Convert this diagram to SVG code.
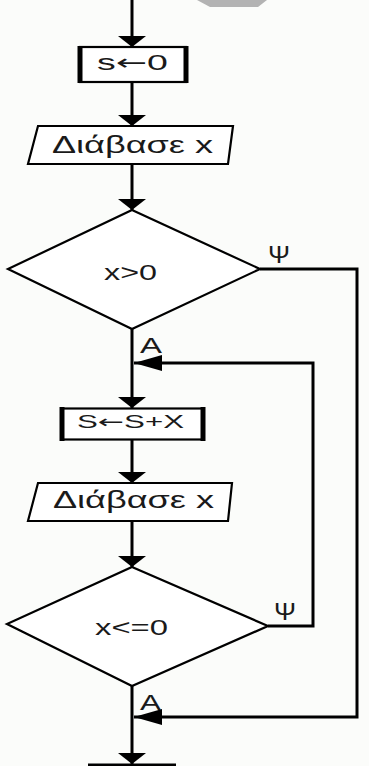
<svg xmlns="http://www.w3.org/2000/svg" width="369" height="766" viewBox="0 0 369 766">
<defs>
<style>
.ln{fill:none;stroke:#000;stroke-width:3;stroke-linejoin:miter}
.sh{fill:#fff;stroke:#000;stroke-width:2.2}
.side{stroke:#000;stroke-width:5}
.tx{font-family:"Liberation Sans",Arial,sans-serif;fill:#1a1a1a}
.ar{font-family:"DejaVu Sans",sans-serif}
</style>
<marker id="ad" viewBox="0 0 11 28" refX="11" refY="14" markerWidth="11" markerHeight="28" orient="auto" markerUnits="userSpaceOnUse">
<path d="M0,0 L11,14 L0,28 Z" fill="#000"/>
</marker>
<marker id="al" viewBox="0 0 28 16" refX="28" refY="8" markerWidth="28" markerHeight="16" orient="auto" markerUnits="userSpaceOnUse">
<path d="M0,0 L28,8 L0,16 Z" fill="#000"/>
</marker>
</defs>
<rect width="369" height="766" fill="#fbfcfa"/>
<polygon points="197,0 267,0 258,7 210,7" fill="#b3b3b3"/>

<g id="connectors">
<path class="ln" d="M132,0 V47" marker-end="url(#ad)"/>
<path class="ln" d="M132,83 V126" marker-end="url(#ad)"/>
<path class="ln" d="M132,164 V210" marker-end="url(#ad)"/>
<path class="ln" d="M132,329 V408" marker-end="url(#ad)"/>
<path class="ln" d="M132,440 V483" marker-end="url(#ad)"/>
<path class="ln" d="M132,521 V567" marker-end="url(#ad)"/>
<path class="ln" d="M132,686 V764" marker-end="url(#ad)"/>
<path class="ln" d="M260,269 H357 V717 H134" marker-end="url(#al)"/>
<path class="ln" d="M268,626 H313 V363 H134" marker-end="url(#al)"/>
<text class="tx" x="268" y="263" font-size="24" textLength="22" lengthAdjust="spacingAndGlyphs">Ψ</text>
<text class="tx" x="274" y="620" font-size="24" textLength="22" lengthAdjust="spacingAndGlyphs">Ψ</text>
<text class="tx" x="140" y="353" font-size="22" textLength="22" lengthAdjust="spacingAndGlyphs">A</text>
<text class="tx" x="140" y="710" font-size="22" textLength="21" lengthAdjust="spacingAndGlyphs">A</text>
</g>

<g id="n-s0">
<rect class="sh" x="80" y="47" width="106" height="35"/>
<line class="side" x1="80" y1="46" x2="80" y2="83"/>
<line class="side" x1="186" y1="46" x2="186" y2="83"/>
<text class="tx" x="97" y="70" font-size="22" textLength="71" lengthAdjust="spacingAndGlyphs">s<tspan class="ar">←</tspan>0</text>
</g>

<g id="n-read1">
<polygon class="sh" points="38,126 233,126 228,164 28,164"/>
<text class="tx" x="52" y="153" font-size="24" textLength="161" lengthAdjust="spacingAndGlyphs">Διάβασε x</text>
</g>

<g id="n-cond1">
<polygon class="sh" points="132,210 260,269 132,329 8,269"/>
<text class="tx" x="104" y="280" font-size="22" textLength="53" lengthAdjust="spacingAndGlyphs">x&gt;0</text>
</g>

<g id="n-sum">
<rect class="sh" x="62" y="408.5" width="141" height="31"/>
<line class="side" x1="62" y1="407" x2="62" y2="441"/>
<line class="side" x1="203" y1="407" x2="203" y2="441"/>
<text class="tx" x="77" y="428" font-size="18" textLength="107" lengthAdjust="spacingAndGlyphs">S<tspan class="ar">←</tspan>S+X</text>
</g>

<g id="n-read2">
<polygon class="sh" points="38,483 232,483 228,521 28,521"/>
<text class="tx" x="53" y="508" font-size="24" textLength="161" lengthAdjust="spacingAndGlyphs">Διάβασε x</text>
</g>

<g id="n-cond2">
<polygon class="sh" points="132,567 268,626 132,686 7,624"/>
<text class="tx" x="95" y="635" font-size="22" textLength="73" lengthAdjust="spacingAndGlyphs">x&lt;=0</text>
</g>

<g id="n-next">
<line x1="88" y1="765" x2="176" y2="765" stroke="#000" stroke-width="3"/>
</g>
</svg>
